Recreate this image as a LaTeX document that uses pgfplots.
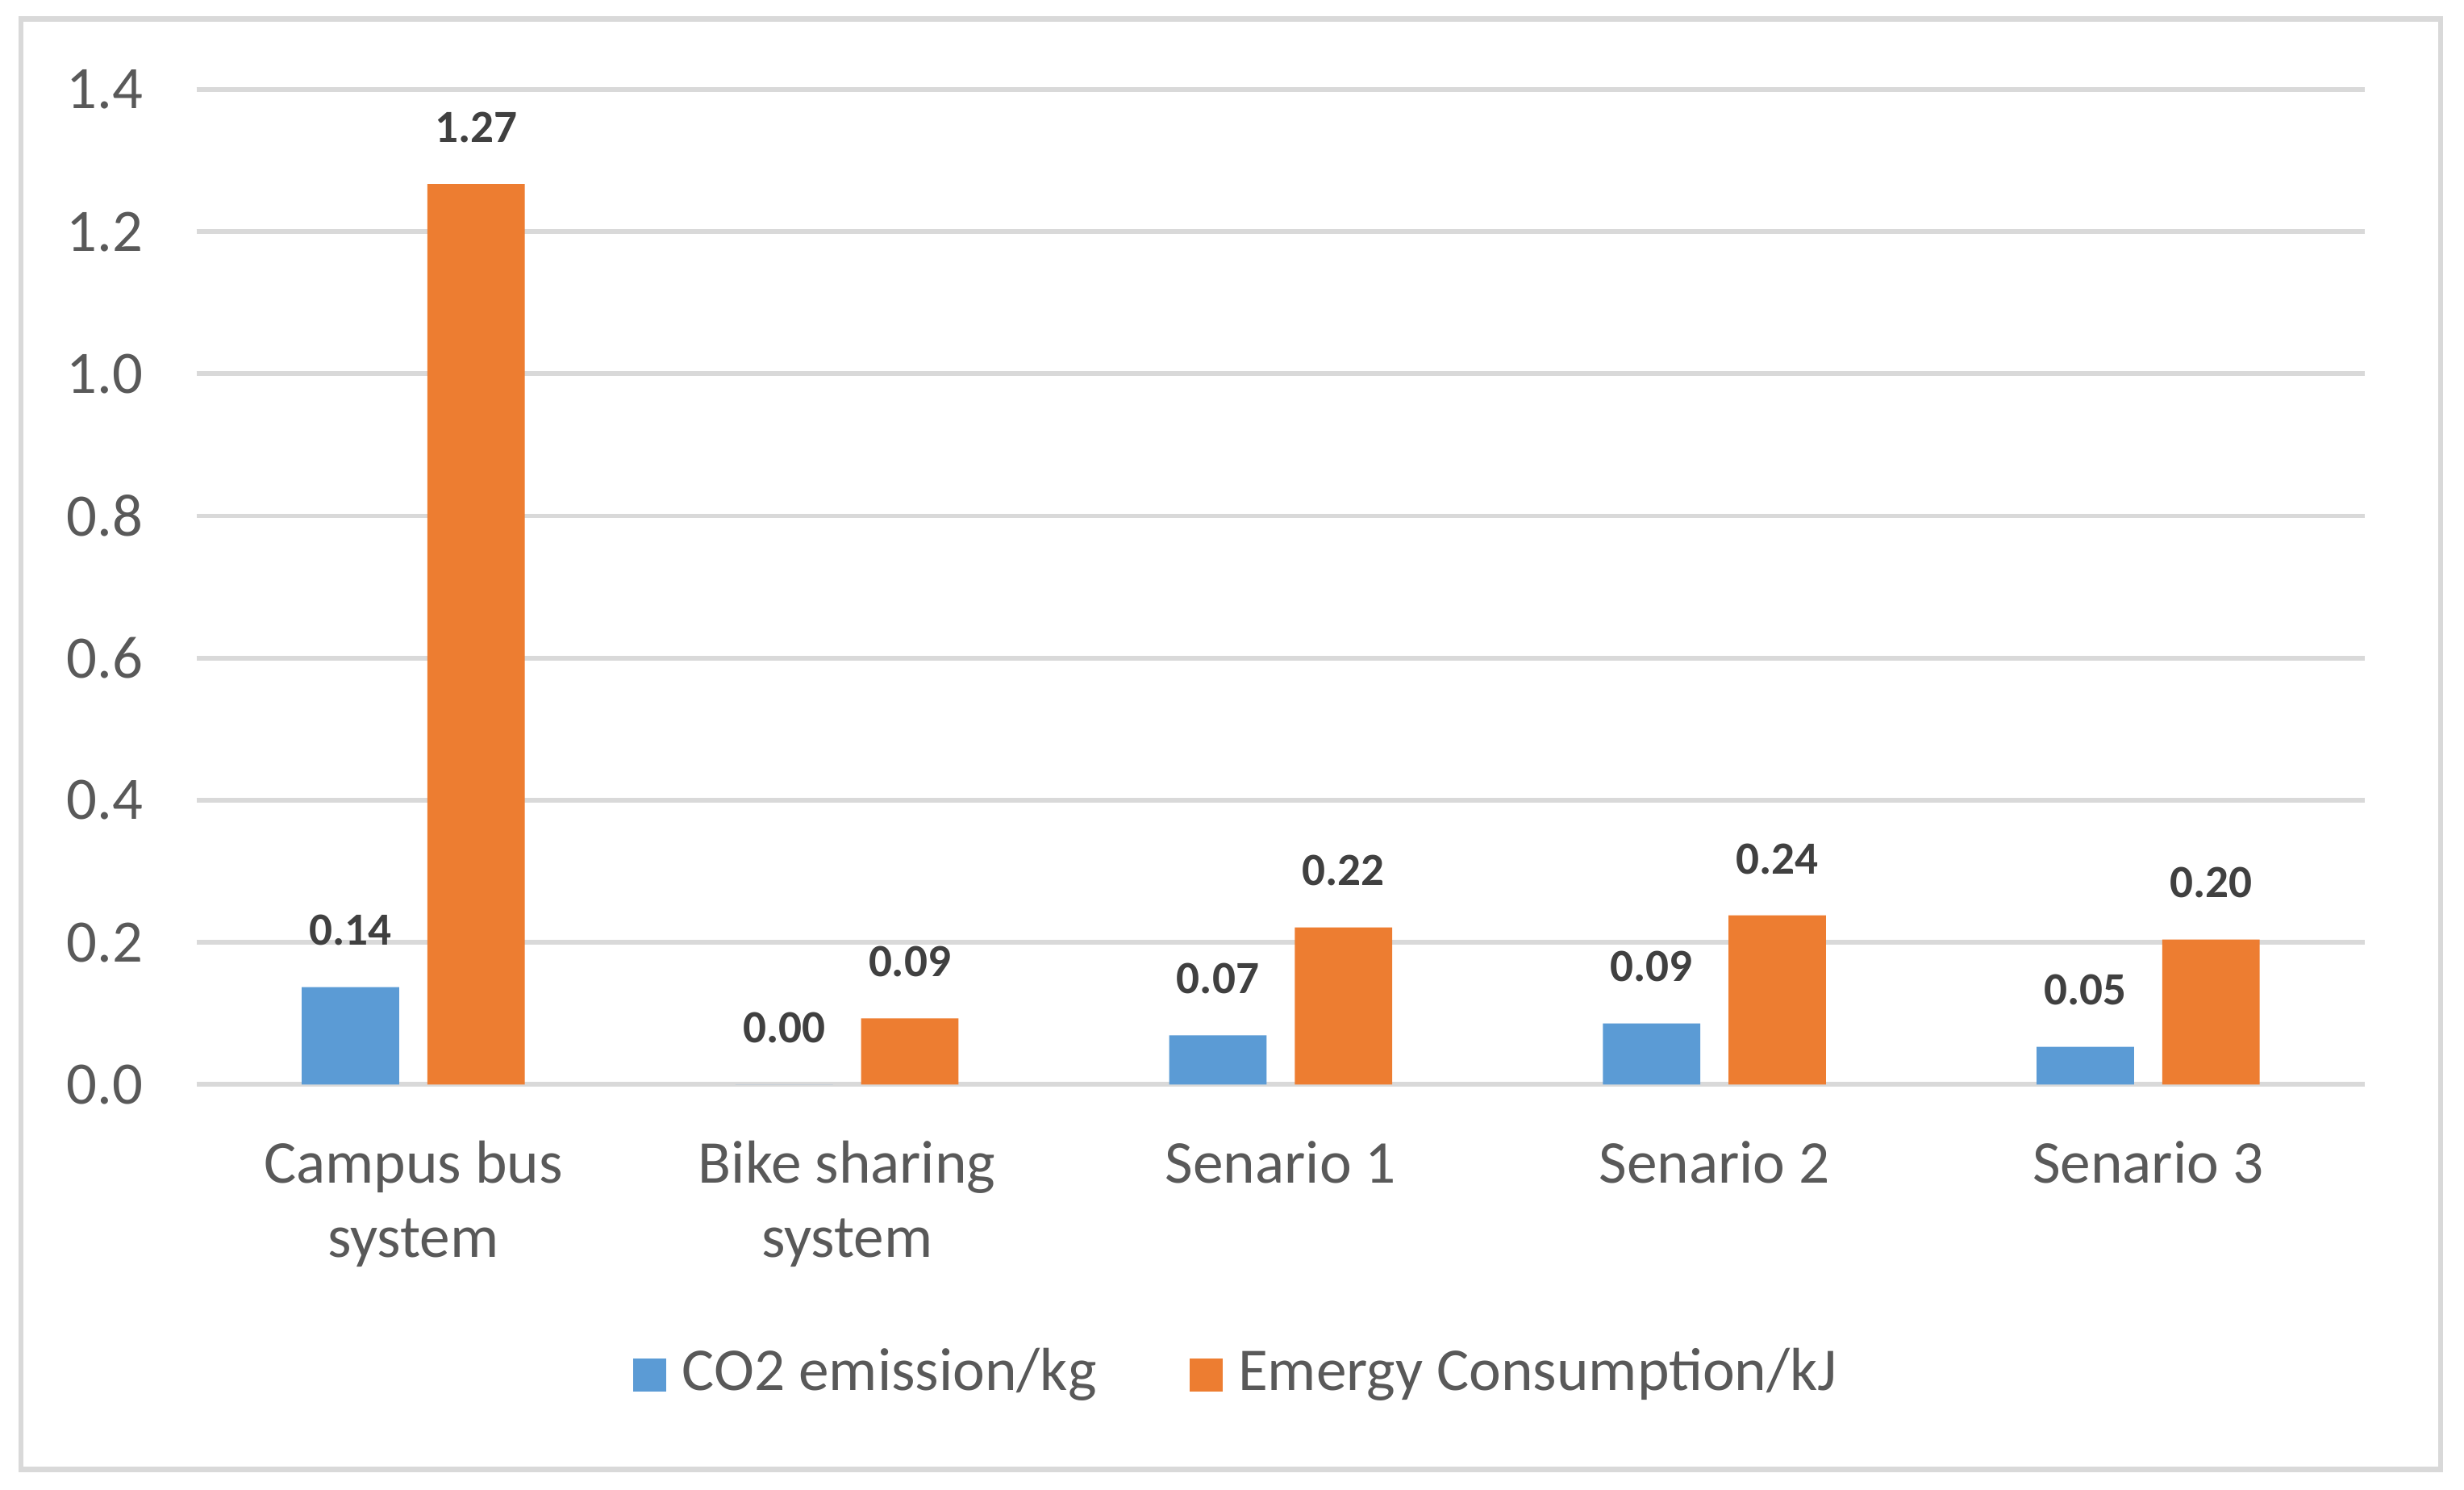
\documentclass[border=0pt]{standalone}
\usepackage{pgfplots}
\pgfplotsset{compat=1.18}
\usepackage{fontspec}
\setmainfont{Carlito}
\definecolor{cblue}{HTML}{5B9BD5}
\definecolor{corange}{HTML}{ED7D31}
\definecolor{gridc}{HTML}{D9D9D9}
\definecolor{txt}{HTML}{595959}
\definecolor{lbl}{HTML}{404040}
\begin{document}
\begin{tikzpicture}
\begin{axis}[
  scale only axis, width=414pt, height=189.9pt,
  xmin=-0.5, xmax=4.5, ymin=0, ymax=1.4,
  ybar=5.4pt, bar width=18.6pt,
  clip=false,
  axis line style={draw=none},
  major tick length=0pt,
  ymajorgrids, grid style={gridc, line width=0.9pt},
  ytick={0,0.2,0.4,0.6,0.8,1.0,1.2,1.4},
  yticklabel style={/pgf/number format/.cd, fixed, precision=1, zerofill, assume math mode=true, /tikz/.cd,
    font=\fontsize{11.5}{13.9}\selectfont, text=txt, anchor=east, inner sep=0pt, xshift=-10pt},
  xtick={0,1,2,3,4},
  xticklabels={{Campus bus\\system},{Bike sharing\\system},{Senario 1},{Senario 2},{Senario 3}},
  xticklabel style={align=center, font=\fontsize{11.6}{14.1}\selectfont, text=txt, anchor=north, inner sep=0pt, yshift=-10.6pt},
  nodes near coords,
  point meta=y,
  nodes near coords style={/pgf/number format/.cd, fixed, precision=2, zerofill, assume math mode=true, /tikz/.cd,
    font=\fontsize{8.8}{10}\selectfont\bfseries, text=lbl, anchor=center, yshift=10.8pt, inner sep=0pt},
  legend columns=2,
  legend style={at={(0.4815,-0.290)}, anchor=center, draw=none, fill=none,
    font=\fontsize{11.6}{13.9}\selectfont, text=txt,
    /tikz/every even column/.append style={column sep=15.7pt}},
  legend image code/.code={\fill[#1] (0pt,-3.6pt) rectangle (6.3pt,2.7pt); \path (7.3pt,0pt);},
]
\addplot[fill=cblue, draw=none] coordinates {(0,0.137) (1,0) (2,0.069) (3,0.086) (4,0.053)};
\addplot[fill=corange, draw=none] coordinates {(0,1.267) (1,0.093) (2,0.221) (3,0.238) (4,0.204)};
\legend{CO2 emission/kg, Emergy Consumption/kJ}
\draw[gridc, line width=1pt] (rel axis cs:-0.08087,-0.3870) rectangle (rel axis cs:1.03478,1.0711);
\path (rel axis cs:-0.09058,-0.40758) rectangle (rel axis cs:1.04565,1.0900);
\end{axis}
\end{tikzpicture}
\end{document}
